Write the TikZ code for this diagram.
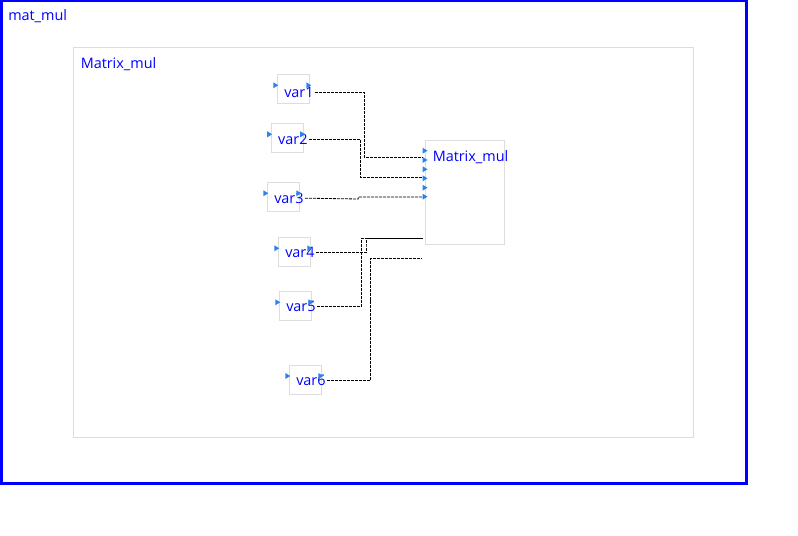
\documentclass[tikz,border=0pt]{standalone}
\usepackage{fontspec}
\setmainfont{Open Sans}
\usepackage{tikz}
\definecolor{lblblue}{RGB}{0,0,255}
\definecolor{boxgray}{RGB}{221,221,221}
\definecolor{portblue}{RGB}{45,130,235}
\usetikzlibrary{arrows.meta}

\begin{document}
\begin{tikzpicture}[x=0.75pt, y=-0.75pt, every node/.style={font=\fontsize{10.8}{13}\selectfont, text=lblblue}, varbox/.style={draw=boxgray, line width=0.75pt, minimum width=24pt, minimum height=21.75pt, inner sep=0pt, anchor=north west}, varlbl/.style={inner sep=0pt, anchor=base west}, wire/.style={draw=black, line width=0.6pt, dash pattern=on 2.25pt off 0.75pt}, port/.pic={\fill[portblue] (-2.5,-3) -- (2.5,0) -- (-2.5,3) -- cycle;}]
    \useasboundingbox (0,0) rectangle (798,535);
    \draw[lblblue, line width=2.25pt] (1,1) rectangle (746,483);
    \node[varlbl] (outer) at (8,21) {mat\_mul};
    \draw[boxgray, line width=0.75pt] (73,48) rectangle (693,437);
    \node[varlbl] (inner) at (80.5,68.3) {Matrix\_mul};
    % variable blocks
    \node[varbox] (b1) at (277.3,74.3) {};
    \node[varbox] (b2) at (271.2,123.3) {};
    \node[varbox] (b3) at (267.3,182.3) {};
    \node[varbox] (b4) at (278.3,237.3) {};
    \node[varbox] (b5) at (279.3,291.3) {};
    \node[varbox] (b6) at (289.3,365) {};
    \node[varlbl] (var1) at ([shift={(6.7,23)}]b1.north west) {var1};
    \node[varlbl] (var2) at ([shift={(6.7,21.5)}]b2.north west) {var2};
    \node[varlbl] (var3) at ([shift={(6.7,21)}]b3.north west) {var3};
    \node[varlbl] (var4) at ([shift={(6.7,20.2)}]b4.north west) {var4};
    \node[varlbl] (var5) at ([shift={(6.7,20.4)}]b5.north west) {var5};
    \node[varlbl] (var6) at ([shift={(6.7,20.7)}]b6.north west) {var6};
    \pic at ([shift={(-1.5,11)}]b1.north west) {port};
    \pic at ([shift={(31.5,11)}]b1.north west) {port};
    \pic at ([shift={(-1.5,11)}]b2.north west) {port};
    \pic at ([shift={(31.5,11)}]b2.north west) {port};
    \pic at ([shift={(-1.5,11)}]b3.north west) {port};
    \pic at ([shift={(31.5,11)}]b3.north west) {port};
    \pic at ([shift={(-1.5,11)}]b4.north west) {port};
    \pic at ([shift={(31.5,11)}]b4.north west) {port};
    \pic at ([shift={(-1.5,11)}]b5.north west) {port};
    \pic at ([shift={(31.5,11)}]b5.north west) {port};
    \pic at ([shift={(-1.5,11)}]b6.north west) {port};
    \pic at ([shift={(31.5,11)}]b6.north west) {port};
    % Matrix_mul block
    \node[varbox, minimum width=59.25pt, minimum height=78pt] (mm) at (425,140) {};
    \node[varlbl] (mmlbl) at ([shift={(7.5,21.7)}]mm.north west) {Matrix\_mul};
    \pic at ([shift={(0,10.7)}]mm.north west) {port};
    \pic at ([shift={(0,20)}]mm.north west) {port};
    \pic at ([shift={(0,29.3)}]mm.north west) {port};
    \pic at ([shift={(0,38.3)}]mm.north west) {port};
    \pic at ([shift={(0,47.7)}]mm.north west) {port};
    \pic at ([shift={(0,56.7)}]mm.north west) {port};
    \coordinate (in1) at ([shift={(-2,17.3)}]mm.north west);
    \coordinate (in2) at ([shift={(-2,37.3)}]mm.north west);
    \coordinate (in3) at ([shift={(-2,57)}]mm.north west);
    \coordinate (out1) at ([shift={(-3,-6.7)}]mm.south west);
    \coordinate (out2) at ([shift={(-3,13.7)}]mm.south west);
    % wires
    \draw[wire] ([xshift=0.75pt]var1.east) -| (364.3,120) |- (in1);
    \draw[wire] ([xshift=0.75pt]var2.east) -| (360.7,160) |- (in2);
    \draw[wire] ([xshift=0.75pt]var3.east) -- (358.3,199) -- (358.3,197) -- (in3);
    \draw[wire] ([xshift=0.75pt]var4.east) -| (366,245) |- (out1);
    \draw[wire] ([xshift=0.75pt]var5.east) -| (361.7,245) |- (out1);
    \draw[wire] ([xshift=0.75pt]var6.east) -| (370.7,300) |- (out2);
\end{tikzpicture}
\end{document}
